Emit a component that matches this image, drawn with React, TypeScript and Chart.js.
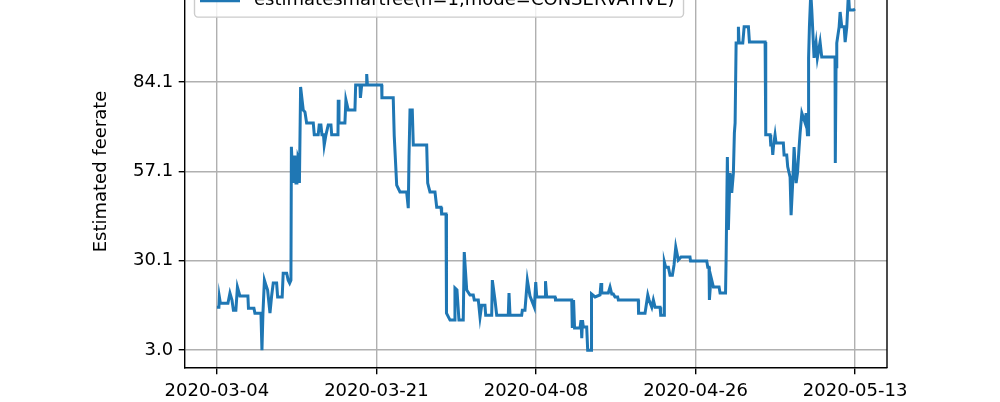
import React, { useEffect, useRef } from 'react';
import { Chart, registerables } from 'chart.js';

Chart.register(...registerables);

const seriesLabel = 'estimatesmartfee(n=1,mode=CONSERVATIVE)';
const yAxisTitle = 'Estimated feerate';

// days since 2020-03-04
const dayOffsets = [
  0, 0.22, 0.27, 0.38, 1.21, 1.43, 1.65, 1.81, 2.08, 2.25, 2.52, 3.40, 3.46, 4.06, 4.17, 4.83, 4.94, 5.05, 5.21, 5.38,
  5.56, 5.82, 6.00, 6.18, 6.55, 6.66, 7.16, 7.27, 7.65, 7.82, 7.98, 8.12, 8.17, 8.34, 8.45, 8.56, 8.67, 8.78, 8.89, 9.00,
  9.05, 9.18, 9.47, 9.66, 9.84, 10.57, 10.68, 11.11, 11.22, 11.41, 11.52, 11.69, 11.77, 11.96, 12.21, 12.51, 12.59, 13.28, 13.31, 13.39,
  14.04, 14.15, 14.41, 15.14, 15.22, 15.69, 15.74, 15.88, 16.37, 16.43, 16.51, 18.07, 18.10, 19.34, 19.45, 19.72, 20.08, 20.81, 20.99, 21.07,
  21.18, 21.43, 21.54, 23.01, 23.12, 23.37, 23.92, 24.11, 24.58, 24.65, 25.13, 25.18, 25.57, 26.04, 26.11, 26.33, 26.55, 27.02, 27.13, 27.40,
  27.76, 28.12, 28.23, 28.67, 28.86, 29.04, 29.40, 29.48, 30.14, 30.21, 30.50, 30.69, 31.96, 32.04, 32.15, 33.43, 33.50, 33.79, 34.05, 34.34,
  34.82, 34.97, 35.08, 35.99, 36.04, 36.17, 37.09, 37.14, 38.92, 38.98, 39.12, 39.23, 39.83, 39.94, 40.02, 40.10, 40.19, 40.56, 40.67, 41.04,
  41.09, 41.48, 42.02, 42.13, 42.21, 42.93, 43.12, 43.31, 43.48, 43.67, 43.96, 44.03, 46.22, 46.25, 46.96, 47.26, 47.40, 47.70, 47.87, 48.06,
  48.61, 48.68, 49.05, 49.08, 49.23, 49.52, 49.70, 49.96, 50.14, 50.33, 50.61, 50.91, 51.89, 51.95, 53.73, 53.84, 53.98, 54.02, 54.20, 54.46,
  55.08, 55.19, 55.79, 55.85, 55.99, 56.10, 56.28, 56.47, 56.65, 56.76, 56.84, 56.95, 57.17, 57.20, 57.28, 57.68, 57.83, 58.30, 58.41, 60.13,
  60.20, 60.68, 60.75, 60.90, 60.97, 61.06, 61.22, 61.33, 62.13, 62.21, 62.50, 62.61, 62.87, 62.98, 63.17, 63.31, 63.53, 63.68, 63.86, 63.97,
  64.16, 64.52, 64.63, 64.77, 64.88, 64.90, 64.99, 65.14, 65.25, 65.50, 65.72, 65.86, 66.16, 66.34, 67.80, 67.83, 67.91, 67.99, 68.25, 68.36,
  68.54, 68.80, 68.91, 69.09, 69.27, 69.38, 69.82, 70.0,
];

const feerates = [
  16.0, 16.0, 19.1, 17.2, 17.2, 20.3, 18.2, 15.1, 15.1, 22.1, 19.4, 19.4, 15.7, 15.7, 14.2, 14.2, 3.0, 14.2, 24.2, 22.7,
  21.2, 14.2, 19.4, 23.3, 23.3, 19.1, 19.1, 26.3, 26.3, 24.2, 23.3, 24.2, 64.6, 53.6, 61.5, 61.5, 53.6, 53.6, 61.5, 60.6,
  53.6, 82.7, 75.7, 75.1, 71.8, 71.8, 68.2, 68.2, 71.2, 71.2, 68.2, 68.2, 65.1, 68.2, 71.2, 71.2, 68.2, 68.2, 78.8, 71.8,
  71.8, 78.8, 75.7, 75.7, 83.3, 83.3, 79.4, 83.3, 83.3, 86.6, 83.3, 83.3, 79.4, 79.4, 67.9, 53.0, 50.9, 50.9, 46.0, 61.5,
  75.7, 75.7, 65.1, 65.1, 53.6, 50.9, 50.9, 46.3, 46.3, 44.2, 44.2, 14.2, 12.1, 12.1, 21.8, 21.2, 12.1, 12.1, 32.7, 21.2,
  19.7, 19.7, 18.2, 18.2, 13.0, 16.6, 16.6, 13.6, 13.6, 24.2, 18.2, 13.6, 13.6, 20.3, 13.6, 13.6, 15.1, 15.1, 24.2, 19.4,
  16.0, 23.6, 19.1, 19.1, 23.9, 19.1, 19.1, 18.2, 18.2, 9.7, 18.2, 9.7, 9.7, 12.1, 6.6, 12.1, 10.0, 10.0, 3.0, 3.0,
  20.0, 19.1, 19.7, 23.3, 20.3, 20.3, 22.1, 20.0, 20.0, 19.1, 19.1, 18.2, 18.2, 14.2, 14.2, 19.7, 18.2, 16.0, 18.2, 16.0,
  16.0, 13.6, 13.6, 29.7, 28.1, 28.1, 25.7, 25.7, 28.8, 34.2, 30.3, 31.2, 31.2, 30.0, 30.0, 28.1, 28.1, 18.2, 25.1, 22.1,
  22.1, 20.3, 20.3, 30.3, 61.5, 39.4, 56.6, 50.6, 56.6, 68.8, 71.8, 96.0, 96.0, 100.9, 96.0, 96.0, 100.9, 100.9, 96.3, 96.3,
  68.2, 68.2, 65.1, 65.1, 62.1, 65.1, 68.2, 65.7, 65.7, 62.1, 62.1, 58.5, 55.4, 43.9, 54.5, 64.5, 53.6, 56.6, 64.5, 68.8,
  74.8, 71.8, 74.8, 68.2, 68.2, 91.5, 100.9, 111.2, 106.0, 91.5, 96.0, 91.5, 96.3, 91.8, 91.8, 59.7, 88.8, 96.0, 100.9, 105.4,
  100.9, 100.9, 96.3, 100.9, 111.2, 106.0, 106.0, 106.3,
];

const xTickValues = [0, 17.5, 35, 52.5, 70];
const xTickLabels = ['2020-03-04', '2020-03-21', '2020-04-08', '2020-04-26', '2020-05-13'];
const yTickValues = [3.0, 30.05, 57.1, 84.15, 111.2];
const yTickLabels = ['3.0', '30.1', '57.1', '84.1', '111.2'];

export default function App() {
  const ref = useRef<HTMLCanvasElement>(null);

  useEffect(() => {
    const canvas = ref.current;
    if (!canvas) return;
    const font = { family: 'DejaVu Sans', size: 18 };
    const framePlugin = {
      id: 'frameLegend',
      afterDraw(chart: any) {
        const { ctx, chartArea: a } = chart;
        ctx.save();
        ctx.strokeStyle = '#000';
        ctx.lineWidth = 1.4;
        ctx.beginPath();
        ctx.moveTo(a.left, a.top);
        ctx.lineTo(a.right, a.top);
        ctx.lineTo(a.right, a.bottom);
        ctx.stroke();
        ctx.font = '18px "DejaVu Sans"';
        const tw = ctx.measureText(seriesLabel).width;
        const bx = a.left + 9.5;
        const by = a.top + 9.5;
        const bw = 59.5 + tw + 9;
        const bh = 32.6;
        ctx.beginPath();
        ctx.roundRect(bx, by, bw, bh, 3.5);
        ctx.fillStyle = 'rgba(255,255,255,0.8)';
        ctx.fill();
        ctx.strokeStyle = '#cccccc';
        ctx.lineWidth = 1.4;
        ctx.stroke();
        const cy = by + bh / 2;
        ctx.beginPath();
        ctx.moveTo(bx + 5.5, cy);
        ctx.lineTo(bx + 45.5, cy);
        ctx.strokeStyle = '#1f77b4';
        ctx.lineWidth = 3;
        ctx.stroke();
        ctx.fillStyle = '#000';
        ctx.textBaseline = 'middle';
        ctx.textAlign = 'left';
        ctx.fillText(seriesLabel, bx + 59.5, cy);
        ctx.restore();
      },
    };

    const chart = new Chart(canvas, {
      type: 'line',
      data: {
        datasets: [
          {
            label: seriesLabel,
            data: dayOffsets.map((d, i) => ({ x: d, y: feerates[i] })),
            borderColor: '#1f77b4',
            backgroundColor: '#1f77b4',
            borderWidth: 3,
            pointRadius: 0,
            tension: 0,
            fill: false,
          },
        ],
      },
      options: {
        responsive: false,
        animation: false,
        devicePixelRatio: 1,
        layout: { padding: { top: 25, left: 85, right: 113, bottom: 0 } },
        plugins: { legend: { display: false }, tooltip: { enabled: false } },
        scales: {
          x: {
            type: 'linear',
            min: -3.5,
            max: 73.5,
            afterBuildTicks: (s: any) => {
              s.ticks = xTickValues.map((v) => ({ value: v }));
            },
            afterFit: (s: any) => {
              s.height = 52;
            },
            ticks: {
              callback: (_v: any, i: number) => xTickLabels[i],
              font,
              color: '#000',
              padding: 6,
              autoSkip: false,
              maxRotation: 0,
            },
            grid: { color: '#b0b0b0', lineWidth: 1.4, tickColor: '#000', tickLength: 6.3, tickWidth: 1.4 },
            border: { color: '#000', width: 1.4 },
          },
          y: {
            type: 'linear',
            min: -2.41,
            max: 116.61,
            afterBuildTicks: (s: any) => {
              s.ticks = yTickValues.map((v) => ({ value: v }));
            },
            afterFit: (s: any) => {
              s.width = 100;
            },
            ticks: {
              callback: (_v: any, i: number) => yTickLabels[i],
              font,
              color: '#000',
              padding: 5.5,
              autoSkip: false,
            },
            title: { display: true, text: yAxisTitle, font, color: '#000', padding: { top: 6, bottom: 4 } },
            grid: { color: '#b0b0b0', lineWidth: 1.4, tickColor: '#000', tickLength: 6.3, tickWidth: 1.4 },
            border: { color: '#000', width: 1.4 },
          },
        },
      },
      plugins: [framePlugin],
    });
    return () => chart.destroy();
  }, []);

  return (
    <div style={{ position: 'absolute', left: 0, top: -50 }}>
      <canvas ref={ref} width={1000} height={470} style={{ width: 1000, height: 470, display: 'block' }} />
    </div>
  );
}
